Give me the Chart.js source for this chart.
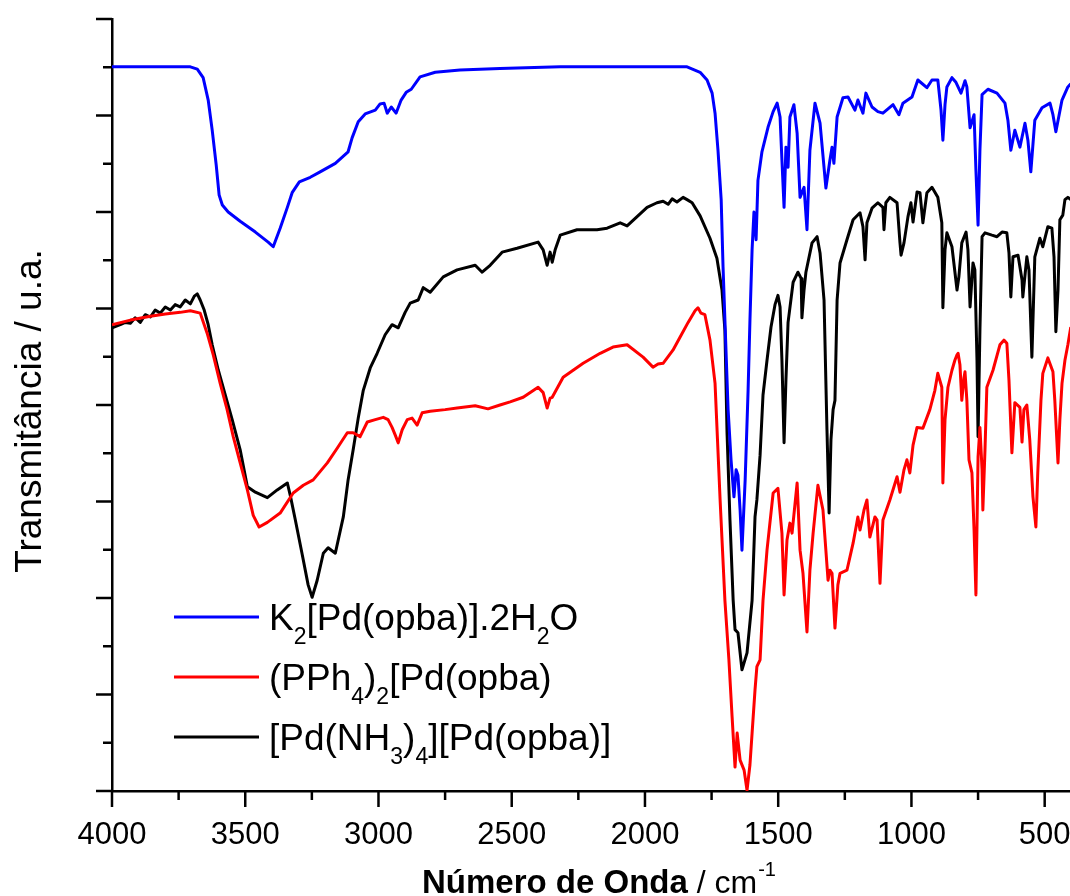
<!DOCTYPE html>
<html>
<head>
<meta charset="utf-8">
<title>Espectros de IV</title>
<script src="https://cdn.jsdelivr.net/npm/chart.js@4.4.0/dist/chart.umd.min.js"></script>
<style>
  html, body { margin: 0; padding: 0; background: #fff; }
  #wrap { width: 1070px; height: 896px; }
</style>
</head>
<body>
<div id="wrap"><canvas id="irChart" width="1070" height="896"></canvas></div>
<script>
// wavenumbers (cm-1) and transmittance (a.u., 0-100)
const blueWn = [4000,3856,3706,3680,3658,3639,3624,3609,3598,3586,
  3564,3519,3462,3414,3395,3369,3342,3324,3297,3256,
  3219,3162,3114,3099,3076,3050,3012,2994,2979,2967,
  2952,2934,2915,2896,2877,2844,2787,2694,2544,2318,
  2093,1842,1793,1767,1748,1737,1726,1714,1707,1700,
  1688,1677,1666,1658,1651,1643,1636,1624,1613,1606,
  1598,1591,1583,1576,1561,1538,1519,1504,1493,1486,
  1478,1471,1463,1456,1441,1429,1418,1403,1392,1381,
  1362,1343,1321,1306,1298,1291,1279,1257,1238,1212,
  1201,1182,1171,1148,1126,1107,1069,1047,1032,998,
  976,942,923,901,889,882,874,867,848,833,
  814,799,792,780,765,758,750,743,735,713,
  679,649,638,627,612,593,574,563,552,537,
  510,480,469,458,435,413,402];
const blueT = [93.8,93.8,93.8,93.5,92.4,89.5,85.6,81.1,77.2,75.9,
  75.0,73.8,72.4,71.1,70.5,72.9,75.6,77.5,78.9,79.5,
  80.2,81.3,82.8,84.6,86.7,87.7,88.2,89.0,89.1,87.8,
  88.6,87.8,89.5,90.5,90.9,92.5,93.1,93.4,93.6,93.8,
  93.8,93.8,93.1,92.1,90.4,87.8,83.0,76.6,67.9,61.0,
  49.4,42.9,38.1,41.6,40.9,36.4,31.2,40.3,51.9,61.0,
  70.1,75.0,71.4,79.1,82.8,86.0,88.0,89.1,87.3,81.7,
  75.6,83.4,80.8,87.3,88.9,85.2,76.9,78.2,72.7,83.0,
  89.1,86.5,78.1,81.7,83.4,81.3,87.3,89.8,89.9,88.2,
  89.5,87.8,90.4,88.6,88.0,87.8,88.9,87.6,89.1,89.9,
  92.1,91.1,92.1,92.1,88.2,84.3,88.9,91.2,92.4,91.8,
  90.4,92.0,91.2,85.9,87.6,80.4,73.3,83.0,90.2,90.9,
  90.4,89.1,86.9,83.0,85.6,83.4,86.5,84.3,80.2,86.9,
  88.5,89.1,87.6,85.4,89.5,91.2,91.6];

const redWn = [4000,3931,3856,3800,3744,3706,3669,3643,3620,3594,
  3568,3545,3519,3492,3470,3448,3417,3369,3320,3282,
  3245,3192,3155,3117,3095,3069,3042,3012,2982,2964,
  2949,2937,2926,2911,2892,2874,2855,2836,2806,2750,
  2705,2637,2589,2544,2506,2457,2401,2382,2367,2356,
  2348,2307,2232,2168,2120,2067,2007,1970,1951,1932,
  1895,1868,1838,1812,1801,1790,1775,1756,1737,1718,
  1700,1685,1673,1662,1654,1643,1628,1617,1606,1598,
  1587,1580,1568,1557,1542,1519,1501,1486,1478,1467,
  1456,1448,1429,1418,1407,1392,1381,1369,1351,1332,
  1313,1306,1298,1287,1276,1268,1242,1219,1201,1193,
  1178,1167,1156,1137,1129,1118,1107,1081,1054,1043,
  1028,1017,1006,994,979,957,931,912,901,886,
  882,874,863,848,837,829,825,818,811,803,
  799,792,784,773,765,758,750,743,735,732,
  724,717,694,668,653,642,634,623,612,593,
  585,578,567,556,544,533,526,514,507,488,
  469,462,450,443,435,424,413,402];
const redT = [60.4,61.0,61.5,61.8,62.0,62.2,61.9,59.3,56.5,52.8,
  49.4,45.9,42.5,39.0,35.7,34.2,34.8,36.0,38.6,39.6,
  40.3,42.5,44.4,46.4,46.4,45.9,47.8,48.1,48.4,48.1,
  47.1,46.1,45.1,46.8,48.1,48.3,47.4,49.0,49.2,49.4,
  49.6,49.9,49.5,50.0,50.4,51.0,52.3,51.6,49.6,50.9,
  51.0,53.6,55.4,56.7,57.5,57.8,56.2,54.9,55.3,55.4,
  57.1,58.8,60.7,62.2,62.6,61.9,61.7,58.4,52.8,37.7,
  24.7,17.0,9.6,3.1,7.5,4.0,2.7,0.1,3.4,7.5,
  13.1,16.1,17.0,24.7,31.2,38.6,39.2,33.4,25.4,32.5,
  34.7,33.4,39.9,31.2,28.2,20.6,28.6,33.4,39.6,36.4,
  27.3,28.6,28.2,21.1,26.7,28.2,28.6,32.1,35.5,33.8,
  36.4,37.7,32.9,35.5,35.1,26.9,35.1,37.7,40.7,38.7,
  41.6,42.9,41.2,44.8,47.1,47.0,49.4,51.9,54.1,52.3,
  39.9,48.1,52.3,54.5,55.8,56.5,56.7,55.2,50.6,53.5,
  54.3,50.6,42.9,41.2,33.8,25.4,43.3,47.1,41.6,36.4,
  44.2,52.3,54.5,57.8,58.4,58.0,53.2,43.8,50.3,49.7,
  45.2,49.4,50.0,45.5,38.1,34.2,41.2,50.6,54.1,56.1,
  54.3,50.6,42.5,48.1,52.8,55.8,57.8,60.1];

const blackWn = [4000,3969,3950,3931,3913,3894,3875,3856,3838,3819,
  3800,3781,3763,3744,3725,3706,3691,3680,3669,3654,
  3639,3624,3601,3575,3549,3519,3492,3462,3417,3380,
  3342,3331,3312,3286,3264,3249,3230,3207,3189,3162,
  3132,3114,3095,3076,3057,3031,3005,2975,2949,2926,
  2900,2881,2851,2832,2806,2757,2705,2637,2611,2581,
  2536,2480,2401,2382,2367,2356,2348,2337,2318,2255,
  2180,2142,2093,2067,1992,1955,1932,1913,1898,1880,
  1857,1842,1823,1793,1756,1730,1711,1700,1692,1681,
  1669,1662,1651,1636,1617,1598,1587,1580,1568,1557,
  1542,1527,1512,1501,1493,1486,1478,1471,1463,1444,
  1426,1414,1411,1403,1396,1373,1354,1343,1328,1317,
  1309,1302,1294,1287,1279,1268,1242,1219,1193,1182,
  1174,1167,1148,1126,1107,1103,1096,1081,1054,1043,
  1039,1028,1013,1002,994,979,968,957,942,923,
  901,886,882,874,867,848,829,822,811,795,
  788,780,769,762,754,750,743,735,724,698,
  679,660,642,634,627,619,600,585,582,567,
  559,548,537,518,507,488,473,465,458,450,
  443,432,424,413,402];
const blackT = [60.0,60.4,60.7,60.6,61.3,60.7,61.7,61.4,62.3,61.9,
  62.7,62.3,63.0,62.7,63.6,63.1,64.1,64.4,63.6,62.3,
  60.4,57.8,54.5,51.3,48.1,44.2,39.4,38.7,38.0,39.0,
  39.9,38.3,35.1,30.6,26.7,25.1,27.3,30.8,31.5,30.8,
  35.5,40.3,44.2,48.3,51.9,54.8,56.7,59.1,60.4,60.0,
  62.0,63.2,63.6,65.2,64.6,66.6,67.5,68.1,67.2,68.1,
  69.8,70.3,71.1,70.1,68.1,69.8,68.5,70.1,72.0,72.7,
  72.7,72.9,73.6,73.2,75.6,76.2,76.4,76.0,76.7,76.3,
  76.9,76.6,76.2,74.5,71.6,69.0,64.9,59.7,46.4,35.1,
  24.7,20.9,20.5,15.7,17.9,24.7,35.5,37.7,43.5,51.3,
  55.8,60.1,63.0,64.2,62.7,55.8,45.1,53.2,60.7,65.9,
  67.2,66.4,61.3,64.9,67.2,71.0,71.8,69.7,63.6,46.8,
  36.0,45.5,49.4,50.6,63.6,68.4,71.4,74.0,74.9,73.1,
  68.8,73.6,75.5,76.2,75.6,72.7,76.2,76.9,76.2,71.0,
  69.4,71.0,74.4,76.2,73.7,77.6,77.5,73.6,77.5,78.2,
  76.9,73.6,62.6,70.1,72.3,70.5,64.9,66.6,71.0,72.4,
  70.1,62.7,68.4,67.5,55.8,45.9,59.7,71.8,72.3,72.0,
  71.8,72.4,72.3,69.7,64.0,69.2,69.4,66.2,64.0,69.2,
  67.5,56.2,69.2,71.6,70.5,73.1,72.9,69.2,59.5,64.9,
  74.0,74.6,76.6,76.9,76.6];

// legend text, "_x" marks a subscript character
const seriesLabels = ['K_2[Pd(opba)].2H_2O', '(PPh_4)_2[Pd(opba)', '[Pd(NH_3)_4][Pd(opba)]'];
const seriesColors = ['#0000ff', '#ff0000', '#000000'];

const xMajorTicks = [4000, 3500, 3000, 2500, 2000, 1500, 1000, 500];
const xMinorTicks = [3750, 3250, 2750, 2250, 1750, 1250, 750];
const yMajorTicks = [0, 12.5, 25, 37.5, 50, 62.5, 75, 87.5, 100];
const yMinorTicks = [6.25, 18.75, 31.25, 43.75, 56.25, 68.75, 81.25, 93.75];

const xTitle = 'Número de Onda';
const xUnit = ' / cm';
const xUnitExp = '-1';
const yTitle = 'Transmitância / u.a.';

const FONT = "'Liberation Sans', Arial, sans-serif";

function toPoints(xs, ys) {
    return xs.map((x, i) => ({ x: x, y: ys[i] }));
}

// splits 'K_2[...]' into normal / subscript pieces
function parseLabel(str) {
    const parts = [];
    let buf = '';
    for (let i = 0; i < str.length; i++) {
        if (str[i] === '_' && i + 1 < str.length) {
            if (buf) parts.push({ t: buf, sub: false });
            parts.push({ t: str[i + 1], sub: true });
            buf = '';
            i++;
        } else {
            buf += str[i];
        }
    }
    if (buf) parts.push({ t: buf, sub: false });
    return parts;
}

// tick marks (long majors, short minors) pointing outwards
const tickMarks = {
    id: 'tickMarks',
    afterDraw(chart) {
        const { ctx, chartArea } = chart;
        const x = chart.scales.x;
        const y = chart.scales.y;
        ctx.save();
        ctx.strokeStyle = '#000';
        ctx.lineCap = 'butt';
        const mark = (x1, y1, x2, y2, w) => {
            ctx.lineWidth = w;
            ctx.beginPath();
            ctx.moveTo(x1, y1);
            ctx.lineTo(x2, y2);
            ctx.stroke();
        };
        xMajorTicks.forEach(v => {
            const px = x.getPixelForValue(v);
            mark(px, chartArea.bottom, px, chartArea.bottom + 16, 2.5);
        });
        xMinorTicks.forEach(v => {
            const px = x.getPixelForValue(v);
            mark(px, chartArea.bottom, px, chartArea.bottom + 9, 2.5);
        });
        yMajorTicks.forEach(v => {
            const py = y.getPixelForValue(v);
            mark(chartArea.left, py, chartArea.left - 16, py, 2.5);
        });
        yMinorTicks.forEach(v => {
            const py = y.getPixelForValue(v);
            mark(chartArea.left, py, chartArea.left - 9, py, 2.5);
        });
        ctx.restore();
    }
};

const axisTitles = {
    id: 'axisTitles',
    afterDraw(chart) {
        const { ctx } = chart;
        ctx.save();
        ctx.fillStyle = '#000';
        ctx.textBaseline = 'alphabetic';

        // y title, rotated
        ctx.save();
        ctx.translate(41, 411);
        ctx.rotate(-Math.PI / 2);
        ctx.font = '37px ' + FONT;
        ctx.textAlign = 'center';
        ctx.fillText(yTitle, 0, 0);
        ctx.restore();

        // x title: bold words, plain unit, superscript exponent
        ctx.textAlign = 'left';
        let tx = 422;
        const base = 893;
        ctx.font = 'bold 33px ' + FONT;
        ctx.fillText(xTitle, tx, base);
        tx += ctx.measureText(xTitle).width;
        ctx.font = '32px ' + FONT;
        ctx.fillText(xUnit, tx, base);
        tx += ctx.measureText(xUnit).width + 1;
        ctx.font = '20px ' + FONT;
        ctx.fillText(xUnitExp, tx, base - 17);
        ctx.restore();
    }
};

const seriesLegend = {
    id: 'seriesLegend',
    afterDraw(chart) {
        const { ctx } = chart;
        ctx.save();
        chart.data.datasets.forEach((ds, i) => {
            const rowY = 617 + i * 60;
            ctx.strokeStyle = ds.borderColor;
            ctx.lineWidth = 3;
            ctx.beginPath();
            ctx.moveTo(174, rowY);
            ctx.lineTo(259, rowY);
            ctx.stroke();

            let tx = 269;
            ctx.fillStyle = '#000';
            ctx.textAlign = 'left';
            ctx.textBaseline = 'alphabetic';
            parseLabel(seriesLabels[i]).forEach(p => {
                if (p.sub) {
                    ctx.font = '23px ' + FONT;
                    ctx.fillText(p.t, tx, rowY + 27);
                } else {
                    ctx.font = '37px ' + FONT;
                    ctx.fillText(p.t, tx, rowY + 13);
                }
                tx += ctx.measureText(p.t).width;
            });
        });
        ctx.restore();
    }
};

const ctx = document.getElementById('irChart');

new Chart(ctx, {
    type: 'line',
    data: {
        datasets: [
            {
                label: seriesLabels[0].replace(/_/g, ''),
                data: toPoints(blueWn, blueT),
                borderColor: seriesColors[0]
            },
            {
                label: seriesLabels[1].replace(/_/g, ''),
                data: toPoints(redWn, redT),
                borderColor: seriesColors[1]
            },
            {
                label: seriesLabels[2].replace(/_/g, ''),
                data: toPoints(blackWn, blackT),
                borderColor: seriesColors[2]
            }
        ]
    },
    options: {
        responsive: false,
        animation: false,
        devicePixelRatio: 1,
        layout: { padding: { left: 112, top: 19, right: 0, bottom: 0 } },
        elements: {
            point: { radius: 0 },
            line: { borderWidth: 3, tension: 0, borderJoinStyle: 'round', fill: false }
        },
        plugins: {
            legend: { display: false },
            tooltip: { enabled: false }
        },
        scales: {
            x: {
                type: 'linear',
                reverse: true,
                min: 405,
                max: 4000,
                afterBuildTicks: axis => {
                    axis.ticks = xMajorTicks.map(v => ({ value: v }));
                },
                afterFit: axis => {
                    axis.height = 105;
                    axis.paddingLeft = 0;
                    axis.paddingRight = 0;
                },
                grid: { display: false, drawTicks: false },
                border: { display: true, color: '#000', width: 2.5 },
                ticks: {
                    color: '#000',
                    font: { family: FONT, size: 31 },
                    padding: 26,
                    maxRotation: 0,
                    autoSkip: false,
                    callback: v => String(v)
                }
            },
            y: {
                type: 'linear',
                min: 0,
                max: 100,
                afterFit: axis => { axis.width = 0; },
                grid: { display: false, drawTicks: false },
                border: { display: true, color: '#000', width: 2.5 },
                ticks: { display: false }
            }
        }
    },
    plugins: [tickMarks, axisTitles, seriesLegend]
});
</script>
</body>
</html>
